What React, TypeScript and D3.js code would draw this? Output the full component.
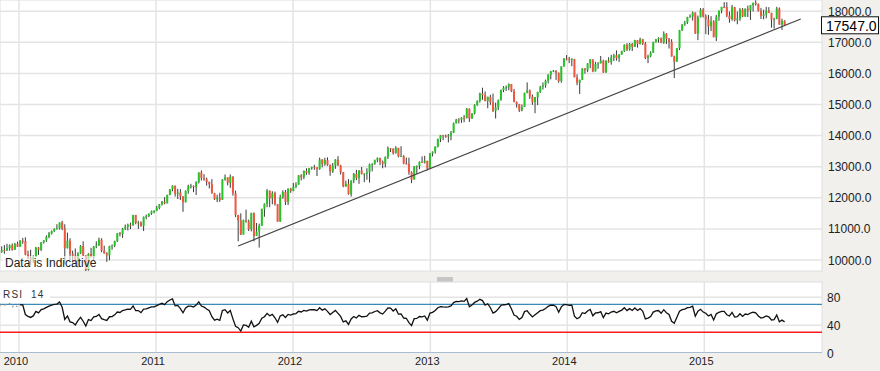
import React from "react";
import * as d3 from "d3";

// ---- DATA ----
// Monday of the first week of each group below
const weekStarts = ["2009-08-03", "2010-01-04", "2011-01-03", "2012-01-02", "2012-12-31", "2014-01-06", "2015-01-05"];

// weekly [open, high, low, close]
const ohlc2009 = [
  [9172, 9400, 9150, 9370], [9370, 9450, 9250, 9321], [9321, 9550, 9080, 9505], [9505, 9630, 9460, 9544],
  [9544, 9550, 9250, 9441], [9441, 9640, 9420, 9605], [9605, 9850, 9560, 9820], [9820, 9920, 9650, 9665],
  [9665, 9790, 9430, 9488], [9488, 9880, 9480, 9865], [9865, 10120, 9860, 9995], [9995, 10120, 9900, 9972],
  [9972, 10050, 9670, 9713], [9713, 10050, 9680, 10023], [10023, 10300, 10020, 10270], [10270, 10440, 10230, 10318],
  [10318, 10480, 10200, 10309], [10309, 10520, 10290, 10388], [10388, 10500, 10300, 10471], [10471, 10530, 10300, 10329],
  [10329, 10550, 10320, 10520], [10520, 10590, 10420, 10428],
];
const ohlc2010 = [
  [10428, 10640, 10420, 10618], [10618, 10710, 10520, 10610], [10610, 10730, 10150, 10172], [10172, 10300, 10030, 10067],
  [10067, 10330, 9835, 10012], [10012, 10150, 9910, 10099], [10099, 10420, 10090, 10402], [10402, 10420, 10160, 10325],
  [10325, 10580, 10290, 10566], [10566, 10640, 10530, 10625], [10625, 10790, 10580, 10742], [10742, 10900, 10700, 10851],
  [10851, 10950, 10820, 10927], [10927, 11020, 10900, 10998], [10998, 11150, 10980, 11019], [11019, 11210, 10980, 11204],
  [11204, 11260, 10960, 11009], [11009, 11150, 9870, 10380], [10380, 10880, 10370, 10620], [10620, 10700, 9990, 10193],
  [10193, 10300, 9760, 10137], [10137, 10370, 9900, 9932], [9932, 10250, 9750, 10212], [10212, 10480, 10190, 10450],
  [10450, 10600, 10130, 10143], [10143, 10150, 9610, 9686], [9686, 10220, 9660, 10198], [10198, 10390, 10080, 10098],
  [10098, 10450, 9990, 10425], [10425, 10600, 10380, 10466], [10466, 10720, 10460, 10654], [10654, 10700, 10250, 10303],
  [10303, 10460, 10200, 10214], [10214, 10250, 9940, 10150], [10150, 10460, 9990, 10448], [10448, 10500, 10330, 10462],
  [10462, 10620, 10410, 10607], [10607, 10870, 10580, 10860], [10860, 10900, 10760, 10829], [10829, 11030, 10710, 11006],
  [11006, 11140, 10960, 11063], [11063, 11170, 10950, 11133], [11133, 11200, 10990, 11118], [11118, 11450, 11100, 11445],
  [11445, 11450, 11150, 11193], [11193, 11260, 11000, 11204], [11204, 11240, 11070, 11092], [11092, 11400, 10930, 11382],
  [11382, 11460, 11310, 11410], [11410, 11500, 11380, 11492], [11492, 11590, 11450, 11573], [11573, 11600, 11500, 11578],
];
const ohlc2011 = [
  [11578, 11740, 11570, 11675], [11675, 11800, 11630, 11787], [11787, 11900, 11750, 11872], [11872, 12020, 11790, 11824],
  [11824, 12100, 11820, 12092], [12092, 12280, 12080, 12273], [12273, 12400, 12210, 12391], [12391, 12390, 12040, 12130],
  [12130, 12290, 11960, 12170], [12170, 12280, 11930, 12044], [12044, 12050, 11550, 11859], [11859, 12240, 11850, 12221],
  [12221, 12420, 12130, 12377], [12377, 12450, 12300, 12380], [12380, 12400, 12180, 12342], [12342, 12530, 12090, 12505],
  [12505, 12820, 12460, 12811], [12811, 12880, 12560, 12638], [12638, 12760, 12550, 12596], [12596, 12650, 12390, 12512],
  [12512, 12520, 12300, 12441], [12441, 12600, 12130, 12151], [12151, 12160, 11930, 11952], [11952, 12100, 11860, 12004],
  [12004, 12160, 11870, 11934], [11934, 12600, 11930, 12582], [12582, 12750, 12550, 12657], [12657, 12650, 12400, 12480],
  [12480, 12750, 12320, 12681], [12681, 12690, 12070, 12143], [12143, 12230, 11380, 11445], [11445, 11450, 10600, 11269],
  [11269, 11500, 10800, 10818], [10818, 11300, 10820, 11285], [11285, 11620, 11200, 11240], [11240, 11300, 10930, 10993],
  [10993, 11520, 10920, 11509], [11509, 11530, 10600, 10772], [10772, 11190, 10770, 10913], [10913, 11170, 10400, 11103],
  [11103, 11650, 11100, 11644], [11644, 11820, 11390, 11809], [11809, 12280, 11700, 12231], [12231, 12230, 11700, 11983],
  [11983, 12210, 11790, 12153], [12153, 12200, 11750, 11796], [11796, 11800, 11230, 11231], [11231, 12100, 11230, 12019],
  [12019, 12240, 11970, 12184], [12184, 12250, 11770, 11866], [11866, 12300, 11770, 12294], [12294, 12320, 12160, 12218],
];
const ohlc2012 = [
  [12218, 12480, 12210, 12360], [12360, 12500, 12310, 12422], [12422, 12730, 12420, 12720], [12720, 12760, 12560, 12660],
  [12660, 12880, 12600, 12862], [12862, 12950, 12740, 12801], [12801, 12960, 12740, 12950], [12950, 13000, 12900, 12983],
  [12983, 13060, 12900, 12978], [12978, 12980, 12700, 12922], [12922, 13290, 12900, 13233], [13233, 13240, 12980, 13081],
  [13081, 13290, 13030, 13212], [13212, 13300, 13030, 13060], [13060, 13070, 12710, 12850], [12850, 13120, 12800, 13029],
  [13029, 13240, 12930, 13228], [13228, 13340, 13030, 13038], [13038, 13060, 12750, 12821], [12821, 12830, 12340, 12369],
  [12369, 12550, 12350, 12455], [12455, 12600, 12100, 12119], [12119, 12560, 12040, 12554], [12554, 12800, 12470, 12767],
  [12767, 12900, 12570, 12640], [12640, 12890, 12450, 12880], [12880, 12990, 12750, 12772], [12772, 12790, 12500, 12777],
  [12777, 12950, 12580, 12822], [12822, 13100, 12490, 13075], [13075, 13110, 12850, 13096], [13096, 13230, 13060, 13207],
  [13207, 13300, 13140, 13275], [13275, 13290, 13050, 13157], [13157, 13200, 12950, 13090], [13090, 13330, 12980, 13306],
  [13306, 13650, 13250, 13593], [13593, 13600, 13470, 13579], [13579, 13590, 13390, 13437], [13437, 13660, 13420, 13610],
  [13610, 13600, 13300, 13328], [13328, 13660, 13320, 13343], [13343, 13370, 13080, 13107], [13107, 13290, 13070, 13093],
  [13093, 13290, 12740, 12815], [12815, 12850, 12470, 12588], [12588, 13020, 12590, 13010], [13010, 13040, 12770, 13026],
  [13026, 13170, 12920, 13155], [13155, 13330, 13130, 13135], [13135, 13350, 13100, 13190], [13190, 13190, 12880, 12938],
];
const ohlc2013 = [
  [12938, 13440, 12930, 13435], [13435, 13490, 13330, 13488], [13488, 13650, 13420, 13650], [13650, 13900, 13620, 13896],
  [13896, 14020, 13790, 14010], [14010, 14020, 13850, 13993], [13993, 14030, 13930, 13982], [13982, 14050, 13780, 14001],
  [14001, 14150, 13850, 14090], [14090, 14420, 14080, 14397], [14397, 14540, 14390, 14515], [14515, 14560, 14390, 14512],
  [14512, 14590, 14410, 14579], [14579, 14660, 14430, 14565], [14565, 14890, 14550, 14865], [14865, 14870, 14440, 14548],
  [14548, 14720, 14540, 14712], [14712, 15010, 14680, 14974], [14974, 15130, 14960, 15118], [15118, 15380, 15060, 15354],
  [15354, 15540, 15150, 15303], [15303, 15420, 15100, 15116], [15116, 15250, 14880, 15248], [15248, 15310, 14990, 15070],
  [15070, 15350, 14760, 14800], [14800, 15060, 14550, 14910], [14910, 15160, 14820, 15136], [15136, 15480, 15130, 15464],
  [15464, 15590, 15400, 15544], [15544, 15610, 15440, 15559], [15559, 15680, 15460, 15658], [15658, 15660, 15400, 15425],
  [15425, 15500, 15070, 15081], [15081, 15100, 14900, 15010], [15010, 15020, 14760, 14810], [14810, 15000, 14780, 14922],
  [14922, 15380, 14920, 15376], [15376, 15710, 15360, 15452], [15452, 15480, 15180, 15258], [15258, 15320, 14990, 15072],
  [15072, 15240, 14720, 15237], [15237, 15410, 14980, 15400], [15400, 15600, 15370, 15570], [15570, 15710, 15480, 15616],
  [15616, 15800, 15540, 15762], [15762, 15970, 15680, 15962], [15962, 16080, 15810, 16065], [16065, 16110, 16040, 16086],
  [16086, 16100, 15790, 16020], [16020, 16030, 15700, 15755], [15755, 16230, 15700, 16221], [16221, 16490, 16220, 16479],
  [16479, 16590, 16420, 16469],
];
const ohlc2014 = [
  [16469, 16530, 16330, 16437], [16437, 16490, 16230, 16458], [16458, 16470, 15870, 15879], [15879, 15970, 15620, 15699],
  [15699, 15800, 15340, 15794], [15794, 16170, 15790, 16154], [16154, 16170, 15990, 16103], [16103, 16330, 16040, 16322],
  [16322, 16460, 16170, 16453], [16453, 16450, 16040, 16065], [16065, 16370, 16060, 16303], [16303, 16360, 16150, 16323],
  [16323, 16560, 16320, 16413], [16413, 16440, 16020, 16027], [16027, 16420, 16020, 16409], [16409, 16520, 16340, 16361],
  [16361, 16600, 16280, 16513], [16513, 16630, 16400, 16584], [16584, 16740, 16410, 16491], [16491, 16620, 16370, 16606],
  [16606, 16730, 16600, 16717], [16717, 16930, 16690, 16924], [16924, 16970, 16720, 16776], [16776, 16980, 16730, 16948],
  [16948, 16980, 16720, 16852], [16852, 17080, 16850, 17068], [17068, 17070, 16830, 16944], [16944, 17150, 16930, 17100],
  [17100, 17110, 16910, 16961], [16961, 17010, 16460, 16493], [16493, 16600, 16330, 16553], [16553, 16710, 16520, 16663],
  [16663, 17020, 16660, 17001], [17001, 17110, 16990, 17098], [17098, 17160, 16990, 17137], [17137, 17150, 16970, 16988],
  [16988, 17350, 16950, 17280], [17280, 17290, 16940, 17113], [17113, 17140, 16800, 17010], [17010, 17100, 16540, 16544],
  [16544, 16570, 15850, 16380], [16380, 16820, 16370, 16805], [16805, 17400, 16750, 17391], [17391, 17580, 17360, 17573],
  [17573, 17690, 17530, 17635], [17635, 17820, 17590, 17810], [17810, 17900, 17800, 17828], [17828, 17990, 17700, 17959],
  [17959, 17960, 17270, 17281], [17281, 17860, 17070, 17805], [17805, 18100, 17800, 18053], [18053, 18100, 17800, 17833],
];
const ohlc2015 = [
  [17833, 17900, 17260, 17737], [17737, 17880, 17240, 17512], [17512, 17840, 17360, 17673], [17673, 17710, 17160, 17165],
  [17165, 17880, 17040, 17825], [17825, 18020, 17690, 18019], [18019, 18140, 17930, 18140], [18140, 18290, 18100, 18133],
  [18133, 18290, 17810, 17857], [17857, 17990, 17630, 17749], [17749, 18200, 17690, 18128], [18128, 18140, 17670, 17713],
  [17713, 17990, 17580, 17763], [17763, 18100, 17690, 18058], [18058, 18100, 17810, 17826], [17826, 18090, 17820, 18080],
  [18080, 18180, 17810, 18024], [18024, 18200, 17720, 18191], [18191, 18270, 17990, 18272], [18272, 18350, 18180, 18232],
  [18232, 18250, 17990, 18011], [18011, 18100, 17750, 17849], [17849, 18050, 17740, 17899], [17899, 18140, 17770, 18015],
  [18015, 18130, 17940, 17947], [17947, 17950, 17470, 17730], [17730, 17790, 17440, 17760], [17760, 18140, 17740, 18086],
  [18086, 18120, 17560, 17568], [17568, 17760, 17400, 17690], [17690, 17710, 17520, 17547],
];

const priceTicks = [10000, 11000, 12000, 13000, 14000, 15000, 16000, 17000, 18000];
const rsiTicks = [0, 40, 80];
const rsiOverbought = 70;
const rsiOversold = 30;
const rsiPeriod = 14;
const rsiStart = "2010-01-04";
const yearLabels = ["2010", "2011", "2012", "2013", "2014", "2015"];
const lastPrice = 17547.0;
const trendDates = ["2011-08-08", "2015-09-15"];
const trendValues = [10450, 17750];

// ---- LAYOUT ----
const W = 880;
const H = 371;
const plotL = 0;
const plotR = 822;
const mainTop = 0;
const mainBottom = 271;
const rsiTop = 282;
const rsiBottom = 352.5;
const FONT = "'Liberation Sans', Arial, Helvetica, sans-serif";
const BG = "#f1f0ed";
const GRID = "#e4e4e4";
const UP = "#26c426";
const DOWN = "#f2563f";
const WICK = "#3a3a3a";

const parse = d3.utcParse("%Y-%m-%d");

type Candle = { date: Date; o: number; h: number; l: number; c: number };

const groups = [ohlc2009, ohlc2010, ohlc2011, ohlc2012, ohlc2013, ohlc2014, ohlc2015];
const candles: Candle[] = [];
groups.forEach((g, gi) => {
  const start = parse(weekStarts[gi])!;
  g.forEach((r, i) => {
    candles.push({ date: d3.utcDay.offset(start, 7 * i), o: r[0], h: r[1], l: r[2], c: r[3] });
  });
});

function wilderRsi(closes: number[], n: number): (number | null)[] {
  const out: (number | null)[] = closes.map(() => null);
  let g = 0;
  let l = 0;
  for (let i = 1; i <= n; i++) {
    const d = closes[i] - closes[i - 1];
    if (d > 0) g += d;
    else l -= d;
  }
  g /= n;
  l /= n;
  out[n] = l === 0 ? 100 : 100 - 100 / (1 + g / l);
  for (let i = n + 1; i < closes.length; i++) {
    const d = closes[i] - closes[i - 1];
    g = (g * (n - 1) + Math.max(d, 0)) / n;
    l = (l * (n - 1) + Math.max(-d, 0)) / n;
    out[i] = l === 0 ? 100 : 100 - 100 / (1 + g / l);
  }
  return out;
}

export default function App() {
  const x = d3
    .scaleUtc()
    .domain([new Date(Date.UTC(2010, 0, 1)), new Date(Date.UTC(2015, 0, 1))])
    .range([19, 704.3]);
  const yP = d3.scaleLinear().domain([10000, 18000]).range([260, 11.2]);
  const yR = d3.scaleLinear().domain([0, 100]).range([353.3, 283.3]);

  const rsi = wilderRsi(candles.map((d) => d.c), rsiPeriod);
  const rsiPts = candles
    .map((d, i) => ({ date: d.date, v: rsi[i] }))
    .filter((p) => p.v !== null) as { date: Date; v: number }[];
  const startD = parse(rsiStart)!;
  const rsiMain = rsiPts.filter((p) => p.date >= startD);
  const rsiPre = rsiPts.filter((p) => p.date <= startD);
  const rsiLine = d3
    .line<{ date: Date; v: number }>()
    .x((p) => x(p.date))
    .y((p) => yR(p.v));

  const yearTicks = yearLabels.map((y) => new Date(Date.UTC(+y, 0, 1)));

  return (
    <svg
      width={W}
      height={H}
      style={{ position: "absolute", left: 0, top: 0, display: "block" }}
      fontFamily={FONT}
    >
      <defs>
        <clipPath id="clipMain">
          <rect x={plotL} y={mainTop} width={plotR - plotL} height={mainBottom - mainTop} />
        </clipPath>
        <clipPath id="clipRsi">
          <rect x={plotL} y={rsiTop} width={plotR - plotL} height={rsiBottom - rsiTop} />
        </clipPath>
      </defs>
      <rect x={0} y={0} width={W} height={H} fill={BG} />

      {/* main panel */}
      <rect x={plotL} y={mainTop} width={plotR - plotL} height={mainBottom - mainTop} fill="#fff" stroke="#dedede" />
      <g clipPath="url(#clipMain)">
        {priceTicks.map((t) => (
          <line key={t} x1={plotL} x2={plotR} y1={yP(t)} y2={yP(t)} stroke={GRID} strokeWidth={1.5} />
        ))}
        {yearTicks.map((d, i) => (
          <line key={i} x1={x(d)} x2={x(d)} y1={mainTop} y2={mainBottom} stroke={GRID} strokeWidth={1.5} />
        ))}
        {candles.map((d, i) => {
          const cx = x(d.date);
          const up = d.c >= d.o;
          const top = yP(Math.max(d.o, d.c));
          const bot = yP(Math.min(d.o, d.c));
          return (
            <g key={i}>
              <line x1={cx} x2={cx} y1={yP(d.h)} y2={yP(d.l)} stroke={WICK} strokeWidth={1} />
              <rect x={cx - 1} y={top} width={2} height={Math.max(1, bot - top)} fill={up ? UP : DOWN} />
            </g>
          );
        })}
        <line
          x1={x(parse(trendDates[0])!)}
          y1={yP(trendValues[0])}
          x2={x(parse(trendDates[1])!)}
          y2={yP(trendValues[1])}
          stroke="#444"
          strokeWidth={1.2}
        />
        <rect x={2} y={256} width={97} height={13} fill="#fff" opacity={0.6} />
        <text x={5} y={267} fontSize={12} fill="#222">
          Data is Indicative
        </text>
      </g>

      {/* price axis */}
      {priceTicks.map((t) => (
        <text key={t} x={828} y={yP(t) + 4.5} fontSize={12} fill="#222">
          {d3.format(".1f")(t)}
        </text>
      ))}
      <rect x={821.5} y={yP(lastPrice) - 8.5} width={57} height={17} fill="#fff" stroke="#111" strokeWidth={1} />
      <text x={826} y={yP(lastPrice) + 5.5} fontSize={14} fill="#000">
        {d3.format(".1f")(lastPrice)}
      </text>

      {/* divider handle */}
      <rect x={437} y={277} width={16} height={5} fill="#c6c6c6" />

      {/* RSI panel */}
      <rect x={plotL} y={rsiTop} width={plotR - plotL} height={rsiBottom - rsiTop} fill="#fff" stroke="#dedede" />
      <g clipPath="url(#clipRsi)">
        {rsiTicks.map((t) => (
          <line key={t} x1={plotL} x2={plotR} y1={yR(t)} y2={yR(t)} stroke={GRID} strokeWidth={1.5} />
        ))}
        {yearTicks.map((d, i) => (
          <line key={i} x1={x(d)} x2={x(d)} y1={rsiTop} y2={rsiBottom} stroke={GRID} strokeWidth={1.5} />
        ))}
        <line x1={plotL} x2={plotR} y1={yR(rsiOverbought)} y2={yR(rsiOverbought)} stroke="#3a8bb8" strokeWidth={1.3} />
        <line x1={plotL} x2={plotR} y1={yR(rsiOversold)} y2={yR(rsiOversold)} stroke="#ff1a1a" strokeWidth={1.5} />
        <rect x={0} y={283} width={50} height={20} fill="#fff" />
        <path d={rsiLine(rsiPre) || ""} fill="none" stroke="#999" strokeWidth={1.2} strokeDasharray="2,3" />
        <path d={rsiLine(rsiMain) || ""} fill="none" stroke="#111" strokeWidth={1.3} />
        <text y={297.5} fontSize={10} fill="#333" letterSpacing={1.2}>
          <tspan x={3}>RSI</tspan>
          <tspan x={31}>14</tspan>
        </text>
      </g>
      <line x1={plotL} x2={plotR} y1={rsiBottom} y2={rsiBottom} stroke="#a8bcd2" strokeWidth={1.2} />

      {/* RSI axis */}
      {rsiTicks.map((t) => (
        <text key={t} x={827} y={yR(t) + 4.5} fontSize={12} fill="#222">
          {t}
        </text>
      ))}

      {/* time axis */}
      {yearTicks.map((d, i) => (
        <text key={i} x={x(d) - 3} y={365} fontSize={11} fill="#222" textAnchor="middle">
          {yearLabels[i]}
        </text>
      ))}
    </svg>
  );
}
